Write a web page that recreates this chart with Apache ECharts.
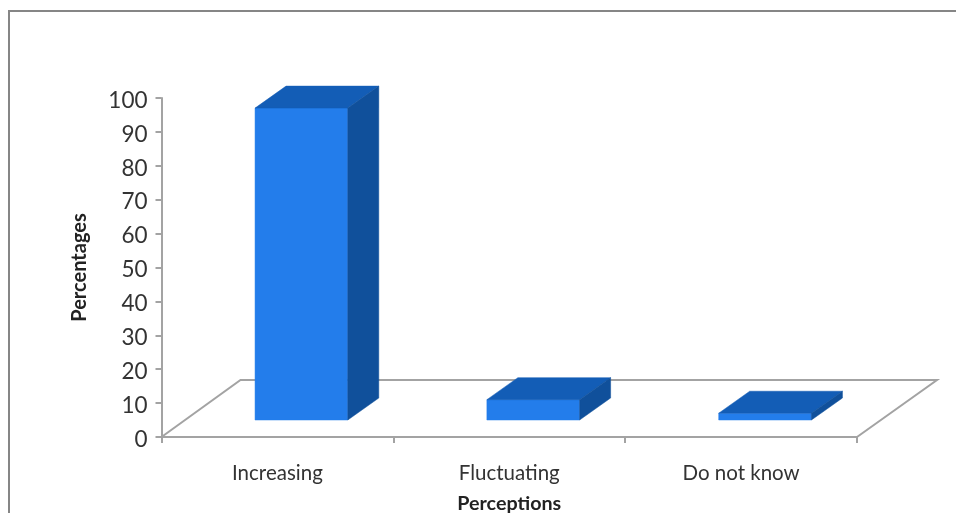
<!DOCTYPE html>
<html><head><meta charset="utf-8">
<style>html,body{margin:0;padding:0;background:#fff}#c{width:956px;height:513px}</style>
<script src="https://cdn.jsdelivr.net/npm/echarts@6/dist/echarts.min.js"></script>
</head><body><div id="c"></div>
<script>
const categories = ['Increasing', 'Fluctuating', 'Do not know'];
const values = [92, 6, 2];
const yMin = 0, yMax = 100, yStep = 10;
const xName = 'Perceptions', yName = 'Percentages';

const FONT = 'Lato';
const front = '#237deb', top3d = '#135db6', side = '#10509b';
const chart = echarts.init(document.getElementById('c'), null, {renderer: 'canvas'});

function poly(points, fill) {
  return {type: 'polygon', shape: {points}, style: {fill, stroke: fill, lineWidth: 0.5}};
}
function renderBar(params, api) {
  const i = api.value(0), v = api.value(1);
  const p = api.coord([i, v]), w = api.size([1, 0])[0] * 0.4;
  const base = api.coord([i, 0]);
  const sx = 24, sy = -17, dx = 31, dy = -22;
  const l = p[0] + sx - w / 2, r = p[0] + sx + w / 2, t = p[1] + sy, b = base[1] + sy;
  return {type: 'group', children: [
    poly([[l, t], [r, t], [r, b], [l, b]], front),
    poly([[l, t], [l + dx, t + dy], [r + dx, t + dy], [r, t]], top3d),
    poly([[r, t], [r + dx, t + dy], [r + dx, b + dy], [r, b]], side)
  ]};
}
function renderFloor(params, api) {
  const a = api.coord([0, 0]), size = api.size([1, 0])[0];
  const x0 = a[0] - size / 2, x1 = x0 + size * categories.length, y = a[1];
  const dx = 79, dy = -57;
  return {type: 'polyline', shape: {points: [[x0, y], [x0 + dx, y + dy], [x1 + dx + 1, y + dy], [x1, y]]},
    style: {fill: null, stroke: '#a3a3a3', lineWidth: 2}};
}
chart.setOption({
  animation: false,
  backgroundColor: '#fff',
  graphic: [{type: 'rect', shape: {x: 9, y: 11, width: 1000, height: 600},
    style: {fill: null, stroke: '#868686', lineWidth: 2}, z: 0}],
  grid: {left: 161.5, right: 99, top: 98, bottom: 76, containLabel: false, outerBoundsMode: 'none'},
  xAxis: {
    type: 'category', data: categories,
    name: xName, nameLocation: 'middle', nameGap: 57,
    nameTextStyle: {fontFamily: FONT, fontWeight: 'bold', fontSize: 19.7, color: '#222'},
    axisLine: {show: true, lineStyle: {color: '#a3a3a3', width: 2}},
    axisTick: {show: true, length: 6, alignWithLabel: false, lineStyle: {color: '#a3a3a3', width: 2}},
    axisLabel: {fontFamily: FONT, fontSize: 20.5, color: '#333', margin: 26}
  },
  yAxis: {
    type: 'value', min: yMin, max: yMax, interval: yStep,
    name: yName, nameLocation: 'middle', nameGap: 72, nameRotate: 90,
    nameTextStyle: {fontFamily: FONT, fontWeight: 'bold', fontSize: 20, color: '#222'},
    axisLine: {show: true, lineStyle: {color: '#a3a3a3', width: 2}},
    axisTick: {show: true, length: 6, lineStyle: {color: '#a3a3a3', width: 2}},
    splitLine: {show: false},
    axisLabel: {margin: 14, formatter: '{a|{value}}',
      rich: {a: {fontFamily: FONT, fontSize: 22.5, color: '#333', padding: [5, 0, 0, 0]}}}
  },
  series: [
    {type: 'custom', coordinateSystem: 'cartesian2d', renderItem: renderFloor, data: [[0, 0]], z: 1, silent: true, clip: false},
    {type: 'custom', coordinateSystem: 'cartesian2d', renderItem: renderBar,
     data: values.map((v, i) => [i, v]), z: 3, silent: true, clip: false,
     encode: {x: 0, y: 1}}
  ]
});
</script></body></html>
